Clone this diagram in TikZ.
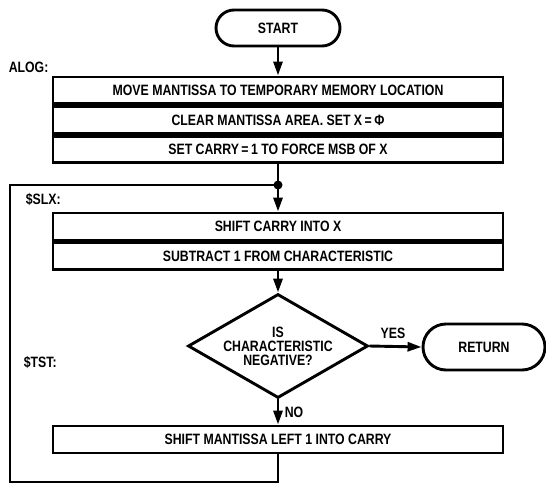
\documentclass[tikz,border=0pt]{standalone}
\usepackage{fontspec}
\newfontfamily\flowfont{Liberation Sans}[FakeStretch=0.82]
\usetikzlibrary{arrows.meta,shapes.geometric}

\begin{document}
\begin{tikzpicture}[x=1pt, y=-1pt, >={Triangle[length=14pt, width=9pt]}, line width=2.9pt,
	every node/.style={font=\flowfont\bfseries\fontsize{15}{14.5}\selectfont},
	procbox/.style={draw, minimum width=450pt, minimum height=26.7pt, inner sep=0pt},
	termbox/.style={draw, rounded corners=18pt, minimum height=36pt, inner sep=0pt},
	decide/.style={draw, diamond, minimum width=180pt, minimum height=104pt, inner sep=0pt}]
	\useasboundingbox (0,0) rectangle (546,485);
	\node[termbox, minimum width=124pt] (start) at (278,28) {START};
	\node[anchor=west] (alog) at (4,67) {ALOG:};
	\node[procbox] (move) at (278,90.3) {MOVE MANTISSA TO TEMPORARY MEMORY LOCATION};
	\node[procbox, anchor=north] (clear) at (move.south) {CLEAR MANTISSA AREA. SET X\,=\,Φ};
	\node[procbox, anchor=north] (carry) at (clear.south) {SET CARRY\,=\,1 TO FORCE MSB OF X};
	\draw[->] (start) -- (move);
	\coordinate (join) at (278,185);
	\fill (join) circle (4.5pt);
	\draw (carry.south) -- (join);
	\node[anchor=west] (slx) at (21,199) {\$SLX:};
	\node[procbox, minimum height=27pt] (shiftx) at (278,226.5) {SHIFT CARRY INTO X};
	\node[procbox, minimum height=27pt, anchor=north] (subtr) at (shiftx.south) {SUBTRACT 1 FROM CHARACTERISTIC};
	\draw[->] (join) -- (shiftx.north);
	\node[decide] (test) at (278,346) {};
	\node[align=center, font=\flowfont\bfseries\fontsize{15}{14}\selectfont] (testtext) at (test) {IS\\ CHARACTERISTIC\\ NEGATIVE?};
	\draw[->] (subtr.south) -- (test.north);
	\node[termbox, minimum width=122pt, minimum height=46pt, rounded corners=23pt] (return) at (484,347) {RETURN};
	\draw[->] (test.east) -- node[above=3pt, pos=0.45] (yes) {YES} (return.west);
	\node[anchor=west] (tst) at (19,362) {\$TST:};
	\node[procbox, minimum height=27pt] (shiftm) at (278,439.5) {SHIFT MANTISSA LEFT 1 INTO CARRY};
	\draw[->] (test.south) -- node[right=2pt] (no) {NO} (shiftm.north);
	\coordinate (loopcorner) at (10,482);
	\draw (shiftm.south) |- (loopcorner) |- (join);
\end{tikzpicture}
\end{document}
